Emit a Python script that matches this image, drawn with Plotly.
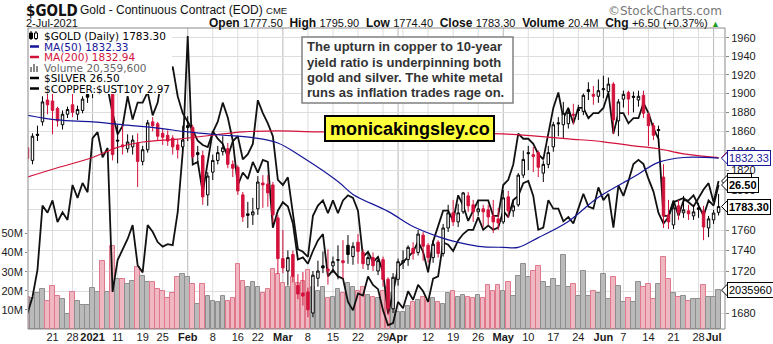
import math
import plotly.graph_objects as go

# ---------------------------------------------------------------------------
# Data: one entry per trading day, index 0 = Mon 21 Dec 2020, last = Fri 2 Jul 2021
# ---------------------------------------------------------------------------
days = list(range(-5, 134))

gold_open = [
    1843, 1830, 1857, 1870, 1893, 1892, 1884, 1867, 1878, 1888, 1878, 1882, 1899,
    1900, 1943, 1953, 1915, 1907, 1851, 1846, 1842, 1844, 1848, 1829, 1841, 1870,
    1868, 1858, 1856, 1853, 1846, 1844,
    1866, 1864, 1838, 1835, 1795, 1818, 1830, 1839, 1842, 1826, 1823, 1795, 1776,
    1775, 1781, 1807, 1806, 1805, 1772,
    1732, 1720, 1736, 1706, 1699, 1700, 1680, 1713, 1725, 1722, 1725, 1731, 1730,
    1745, 1734, 1748, 1738, 1726, 1733, 1720, 1731, 1712, 1684,
    1712, 1728, 1731, 1742, 1738, 1755, 1745, 1733, 1748, 1737, 1762, 1777, 1768,
    1778, 1794, 1785, 1778, 1781, 1780, 1774, 1771,
    1768, 1793, 1779, 1785, 1815, 1838, 1834, 1838, 1817, 1826, 1844, 1869, 1867,
    1868, 1878, 1883, 1881, 1904, 1899, 1897,
    1904, 1902, 1910, 1871, 1894, 1901, 1897, 1893, 1898, 1878, 1866, 1862, 1813,
    1775, 1765, 1784, 1777, 1779, 1774, 1782, 1779, 1762, 1770, 1777.5,
]
gold_high = [
    1849, 1858, 1866, 1897, 1902, 1907, 1886, 1882, 1886, 1902, 1887, 1897, 1903,
    1945, 1959, 1959, 1925, 1914, 1867, 1866, 1857, 1856, 1858, 1845, 1872, 1875,
    1870, 1863, 1861, 1856, 1852, 1866,
    1876, 1867, 1845, 1840, 1818, 1836, 1845, 1855, 1848, 1830, 1825, 1798, 1788,
    1792, 1814, 1815, 1815, 1808, 1775,
    1760, 1740, 1740, 1717, 1719, 1704, 1720, 1730, 1739, 1741, 1734, 1745, 1750,
    1755, 1748, 1756, 1741, 1737, 1738, 1734, 1734, 1714, 1718,
    1732, 1740, 1745, 1748, 1760, 1758, 1747, 1750, 1750, 1766, 1785, 1790, 1786,
    1798, 1798, 1790, 1790, 1785, 1785, 1790, 1782,
    1800, 1799, 1790, 1817, 1840, 1845, 1844, 1840, 1830, 1845, 1870, 1875, 1891,
    1885, 1889, 1888, 1900, 1912, 1908, 1915,
    1919, 1917, 1912, 1894, 1903, 1903, 1902, 1903, 1903, 1880, 1869, 1866, 1826,
    1790, 1788, 1790, 1794, 1785, 1785, 1787, 1784, 1774, 1780, 1795.9,
]
gold_low = [
    1825, 1826, 1850, 1866, 1878, 1857, 1865, 1862, 1874, 1875, 1872, 1879, 1890,
    1895, 1938, 1902, 1904, 1830, 1827, 1836, 1838, 1836, 1803, 1825, 1838, 1860,
    1850, 1846, 1845, 1836, 1832, 1840,
    1850, 1832, 1828, 1785, 1784, 1810, 1826, 1835, 1822, 1813, 1795, 1768, 1762,
    1765, 1775, 1782, 1783, 1767, 1717,
    1718, 1706, 1709, 1693, 1687, 1676, 1676, 1705, 1718, 1707, 1718, 1712, 1713,
    1727, 1726, 1727, 1722, 1721, 1720, 1716, 1705, 1678, 1680,
    1706, 1722, 1725, 1731, 1735, 1730, 1728, 1728, 1733, 1734, 1758, 1764, 1763,
    1776, 1778, 1768, 1774, 1763, 1765, 1757, 1760,
    1766, 1772, 1773, 1783, 1812, 1820, 1818, 1813, 1808, 1822, 1839, 1855, 1853,
    1863, 1867, 1872, 1877, 1893, 1888, 1890,
    1895, 1897, 1857, 1855, 1885, 1877, 1880, 1886, 1874, 1845, 1851, 1845, 1762,
    1761, 1761, 1770, 1772, 1770, 1770, 1772, 1750, 1753, 1766, 1774.4,
]
gold_close = [
    1832, 1855, 1856, 1891, 1888, 1882, 1871, 1878, 1883, 1880, 1883, 1894, 1896,
    1943, 1953, 1908, 1913, 1836, 1850, 1844, 1849, 1851, 1829, 1841, 1869, 1866,
    1855, 1854, 1850, 1844, 1841, 1851,
    1864, 1834, 1836, 1793, 1814, 1830, 1838, 1843, 1826, 1822, 1799, 1773, 1774.5,
    1778, 1808, 1805, 1797, 1775, 1732,
    1723, 1733, 1715, 1698, 1696, 1683, 1716, 1720, 1723, 1720, 1729, 1730.5, 1728,
    1736, 1744, 1739, 1727, 1733, 1725, 1730, 1712, 1684, 1714,
    1729, 1730, 1743, 1737, 1756, 1744, 1733, 1746, 1737, 1762, 1777, 1768, 1777,
    1797, 1784, 1778, 1781, 1778, 1773, 1768, 1767,
    1792, 1779, 1784, 1815, 1831, 1837, 1836, 1823, 1826, 1838, 1867, 1868, 1879,
    1880, 1877, 1882, 1898, 1902, 1897, 1903,
    1905, 1910, 1872, 1891, 1899, 1894, 1896, 1897, 1879, 1866, 1856, 1861, 1774,
    1768, 1782, 1777, 1780, 1776, 1778, 1780.5, 1763, 1771, 1776.8, 1783.3,
]
PRIOR_CLOSE = 1840.0  # close of the session before the first bar

volume_millions = [
    17, 16.3, 19, 21, 14.7, 22.6, 17.4, 15.8, 7.9, 19.5, 14.7, 12.6, 12.6,
    21.6, 19.5, 35.8, 19.5, 43.7, 26.3, 26.1, 23.4, 25.3, 32.3, 27.9, 24.4, 24.4,
    20.7, 20.0, 16.4, 19.0, 27.0, 28.8,
    27.0, 23.4, 12.9, 23.4, 17.4, 14.6, 13.9, 17.4, 14.6, 16.4, 34.0, 25.3, 21.8,
    24.4, 21.8, 19.0, 20.7, 31.4, 29,
    24, 22, 27, 24, 25, 31, 22, 20, 22, 16, 17, 21, 19, 24, 22, 20, 22, 18, 17, 16,
    20, 22, 19,
    9, 9, 12, 14, 15, 17, 15, 16, 14, 13, 19, 20, 17, 18, 17, 16, 18, 16, 23, 20, 23,
    20, 24.4, 17.4, 27.9, 34, 27, 30.5, 33.2, 24.4, 21.8, 26.1, 22.6, 38.8, 21.8,
    23.4, 17.4, 30.5, 17.4, 20, 19,
    28.8, 15.6, 27, 22.6, 13.9, 16.4, 13.9, 24.4, 21.8, 23.4, 15.6, 23.4, 37.5,
    26.1, 19, 17, 17.4, 14.6, 15.6, 15.6, 23, 17, 17, 20.3596,
]

silver_close = [
    24.0, 24.32, 24.85, 26.1, 25.96, 26.2, 25.78, 25.97, 25.82, 26.5, 26.25, 26.54, 26.36,
    27.41, 27.53, 27.04, 27.22, 24.42, 25.04, 25.24, 25.45, 25.72, 24.94, 24.8, 25.72,
    25.59, 25.39, 25.3, 25.35, 25.33, 25.97, 27.14,
    29.4, 26.9, 26.95, 26.35, 26.95, 27.55, 27.4, 27.3, 27.05, 27.35, 27.45, 27.0,
    27.1, 27.3, 28.15, 27.9, 27.7, 27.45, 26.6,
    26.5, 26.65, 25.9, 25.25, 25.2, 25.1, 25.9, 26.1, 26.2, 25.95, 26.2, 25.95, 26.2,
    26.3, 26.25, 26.0, 25.1, 25.2, 25.0, 25.1, 24.8, 24.0, 24.4,
    24.9, 25.0, 25.1, 25.2, 25.4, 25.2, 24.8, 25.4, 25.7, 26.0, 26.0, 25.8, 26.3,
    26.1, 25.8, 26.0, 26.2, 26.2, 26.2, 25.9, 25.9,
    26.5, 26.6, 26.9, 27.5, 27.4, 27.4, 27.3, 27.1, 27.0, 27.5, 28.0, 28.3, 27.8,
    28.0, 27.7, 28.0, 28.0, 27.8, 27.9, 27.9,
    28.0, 28.3, 27.5, 27.9, 27.9, 27.7, 27.8, 27.8, 28.1, 27.9, 27.6, 27.4, 25.9,
    25.9, 26.2, 25.9, 26.2, 26.2, 26.3, 26.1, 25.9, 26.2, 26.1, 26.5,
]

copper_ust10y = [
    3.91, 3.92, 3.90, 3.93, 3.85, 3.87, 3.85, 3.82, 3.83, 3.80, 3.79, 3.78, 3.82,
    3.95, 3.82, 3.58, 3.41, 3.29, 3.19, 3.23, 3.37, 3.26, 3.34, 3.34, 3.39, 3.28,
    3.34, 3.48, 3.46, 3.51, 3.37, 3.29,
    3.25, 3.21, 3.16, 3.14, 3.13, 3.20, 3.25, 3.34, 3.27, 3.16, 2.95, 3.01, 2.98,
    3.06, 3.01, 3.07, 3.06, 2.75, 2.83,
    2.87, 2.85, 2.77, 2.60, 2.61, 2.58, 2.64, 2.69, 2.72, 2.52, 2.55, 2.52, 2.51,
    2.40, 2.36, 2.44, 2.43, 2.52, 2.48, 2.46, 2.36, 2.29, 2.30,
    2.40, 2.37, 2.45, 2.41, 2.48, 2.45, 2.40, 2.51, 2.52, 2.68, 2.67, 2.64, 2.69,
    2.72, 2.74, 2.74, 2.80, 2.74, 2.76, 2.74, 2.75,
    2.83, 2.80, 2.88, 2.90, 2.96, 2.97, 2.90, 2.74, 2.75, 2.88, 2.84, 2.84, 2.78,
    2.80, 2.77, 2.84, 2.91, 2.85, 2.84, 2.94,
    2.88, 2.91, 2.75, 2.95, 2.90, 2.97, 3.05, 3.07, 3.05, 2.98, 2.92, 2.82, 2.77,
    2.80, 2.87, 2.88, 2.89, 2.87, 2.85, 2.89, 2.93, 2.96, 2.87, 2.97,
]

ma50_days = [-5, 1, 8, 15, 21, 27, 33, 40, 45, 50, 57, 60, 67, 72, 77, 80, 85,
             90, 93, 97, 103, 109, 116, 121, 126, 133]
ma50_values = [1877, 1872, 1870, 1866.5, 1863.5, 1859.5, 1856.5, 1853.5, 1848,
               1833, 1808.5, 1795.5, 1778.5, 1763.5, 1753.5, 1749, 1744, 1743,
               1743, 1752.5, 1768.5, 1792.5, 1813, 1828, 1833, 1832.33]

ma200_days = [-5, 1, 8, 13, 18, 25, 31, 38, 45, 53, 70, 90, 96, 103, 110, 116,
              121, 126, 133]
ma200_values = [1813, 1822.5, 1833, 1843.5, 1849, 1852, 1855.5, 1859.5, 1860.5,
                1859.5, 1859, 1857.5, 1855.4, 1852.3, 1849.2, 1845, 1842, 1836.8,
                1832.94]

tick_days = [0, 4, 8, 13, 18, 22, 27, 32, 37, 41, 46, 51, 56, 61, 66, 69, 75,
             80, 85, 90, 95, 100, 105, 110, 114, 119, 124, 129, 132]
tick_labels = ["21", "28", "2021", "11", "19", "25", "Feb", "8", "16", "22",
               "Mar", "8", "15", "22", "29", "Apr", "12", "19", "26", "May",
               "10", "17", "24", "Jun", "7", "14", "21", "28", "Jul"]
month_start_days = [8, 27, 46, 69, 90, 110, 132]
week_start_days = [-5, 0, 4, 13, 18, 22, 32, 37, 41, 51, 56, 61, 66, 70, 75, 80,
                   85, 95, 100, 105, 114, 119, 124, 129]

# ---------------------------------------------------------------------------
# Styling constants
# ---------------------------------------------------------------------------
W, H = 773, 344
PL, PR, PT, PB = 28, 725, 28, 329          # plot area in pixels
X_RANGE = [-4.892, 134.28]
PRICE_RANGE = [math.log10(1665.0), math.log10(1971.0)]
VOL_RANGE = [0, 157.6]
SILVER_RANGE = [23.698, 29.555]
COPPER_RANGE = [2.272, 3.692]
RED = "#d3123c"
NAVY = "#16169a"
SANS = "Liberation Sans, Arial, sans-serif"
VERD = "DejaVu Sans, Verdana, sans-serif"


def fx(px):
    """pixel column -> paper x"""
    return (px - PL) / (PR - PL)


def fy(py):
    """pixel row -> paper y"""
    return (PB - py) / (PB - PT)


def paper_y(value, rng, log=False):
    v = math.log10(value) if log else value
    return (v - rng[0]) / (rng[1] - rng[0])


prev_close = [PRIOR_CLOSE] + gold_close[:-1]
is_up = [c >= p for c, p in zip(gold_close, prev_close)]


def pick(seq, flag):
    return [v for v, u in zip(seq, is_up) if u == flag]


fig = go.Figure()

# volume (base axis, drawn first so it sits underneath)
fig.add_trace(go.Bar(
    x=days, y=volume_millions, width=0.9,
    marker=dict(color=["#bababa" if u else "#efb7c1" for u in is_up],
                line=dict(color=["#8e8e8e" if u else "#e0788b" for u in is_up],
                          width=1)),
    yaxis="y", hoverinfo="skip", showlegend=False))

# silver and copper/10y ratio on their own hidden scales
fig.add_trace(go.Scatter(x=days, y=silver_close, mode="lines", yaxis="y2",
                         line=dict(color="#111111", width=1.8),
                         hoverinfo="skip", showlegend=False))
fig.add_trace(go.Scatter(x=days, y=copper_ust10y, mode="lines", yaxis="y3",
                         line=dict(color="#111111", width=1.8),
                         hoverinfo="skip", showlegend=False))

# moving averages
fig.add_trace(go.Scatter(x=ma200_days, y=ma200_values, mode="lines", yaxis="y4",
                         line=dict(color=RED, width=1.2, shape="spline"),
                         hoverinfo="skip", showlegend=False))
fig.add_trace(go.Scatter(x=ma50_days, y=ma50_values, mode="lines", yaxis="y4",
                         line=dict(color=NAVY, width=1.2, shape="spline"),
                         hoverinfo="skip", showlegend=False))

# candles: black for up sessions, red for down sessions; hollow when close > open
for flag, col in ((True, "#000000"), (False, RED)):
    fig.add_trace(go.Candlestick(
        x=pick(days, flag), open=pick(gold_open, flag), high=pick(gold_high, flag),
        low=pick(gold_low, flag), close=pick(gold_close, flag), yaxis="y4",
        whiskerwidth=0,
        increasing=dict(line=dict(color=col, width=1), fillcolor="white"),
        decreasing=dict(line=dict(color=col, width=1), fillcolor=col),
        hoverinfo="skip", showlegend=False))

shapes = []
# vertical grid
for d in week_start_days:
    shapes.append(dict(type="line", xref="x", yref="paper", x0=d, x1=d, y0=0, y1=1,
                       line=dict(color="#dedede", width=1), layer="below"))
for d in month_start_days:
    shapes.append(dict(type="line", xref="x", yref="paper", x0=d, x1=d, y0=0, y1=1,
                       line=dict(color="#b9b9b9", width=1), layer="below"))

# legend background
shapes.append(dict(type="rect", xref="paper", yref="paper", x0=fx(PL), x1=fx(172),
                   y0=fy(94), y1=fy(PT), fillcolor="white", line=dict(width=0),
                   layer="above"))
# legend icons
icon_rows = [35.5, 46.5, 57, 67.5, 78, 88.5]
shapes += [
    dict(type="line", xref="paper", yref="paper", x0=fx(31), x1=fx(31),
         y0=fy(40), y1=fy(31), line=dict(color="black", width=1), layer="above"),
    dict(type="rect", xref="paper", yref="paper", x0=fx(29.5), x1=fx(32.5),
         y0=fy(38.5), y1=fy(33), fillcolor="black", line=dict(color="black", width=1),
         layer="above"),
    dict(type="line", xref="paper", yref="paper", x0=fx(36), x1=fx(36),
         y0=fy(40), y1=fy(31), line=dict(color="black", width=1), layer="above"),
    dict(type="rect", xref="paper", yref="paper", x0=fx(34.5), x1=fx(37.5),
         y0=fy(38.5), y1=fy(33), fillcolor="white", line=dict(color="black", width=1),
         layer="above"),
]
for row, col in ((1, NAVY), (2, RED), (4, "black"), (5, "black")):
    yy = icon_rows[row]
    shapes.append(dict(type="line", xref="paper", yref="paper", x0=fx(30), x1=fx(39),
                       y0=fy(yy), y1=fy(yy), line=dict(color=col, width=2.5),
                       layer="above"))
for bx, bh in ((30, 5), (33, 8), (36, 6)):
    shapes.append(dict(type="rect", xref="paper", yref="paper", x0=fx(bx),
                       x1=fx(bx + 2), y0=fy(72), y1=fy(72 - bh), fillcolor="#888",
                       line=dict(width=0), layer="above"))

# comment box and web-address box
shapes.append(dict(type="rect", xref="paper", yref="paper", x0=fx(302), x1=fx(513),
                   y0=fy(103), y1=fy(37), fillcolor="white",
                   line=dict(color="#808080", width=1.5), layer="above"))
shapes.append(dict(type="rect", xref="paper", yref="paper", x0=fx(325), x1=fx(494),
                   y0=fy(141), y1=fy(116), fillcolor="#ffff3c",
                   line=dict(color="black", width=2), layer="above"))
# plot frame
shapes.append(dict(type="rect", xref="paper", yref="paper", x0=0, x1=1, y0=0, y1=1,
                   line=dict(color="#8a8a8a", width=1), layer="above"))

ann = []


def text(px, py, s, size, color="#111", family=SANS, xanchor="left", **kw):
    ann.append(dict(xref="paper", yref="paper", x=fx(px), y=fy(py), text=s,
                    showarrow=False, xanchor=xanchor, yanchor="middle",
                    font=dict(size=size, color=color, family=family), **kw))


# header
text(24, 11, "<b>$GOLD</b>", 15, "#111",
     family="DejaVu Sans Condensed, Liberation Sans Narrow, sans-serif")
text(78, 10, "Gold - Continuous Contract (EOD) <span style='font-size:9.5px'>CME</span>",
     12, "#111")
text(24, 23, "2-Jul-2021", 11, "#111")
text(722, 23,
     "<b>Open</b> <span style='font-size:11px'>1777.50</span>  "
     "<b>High</b> <span style='font-size:11px'>1795.90</span>  "
     "<b>Low</b> <span style='font-size:11px'>1774.40</span>  "
     "<b>Close</b> <span style='font-size:11px'>1783.30</span>  "
     "<b>Volume</b> <span style='font-size:11px'>20.4M</span>  "
     "<b>Chg</b> <span style='font-size:11px'>+6.50 (+0.37%)</span> "
     "<span style='color:#1f9a1f;font-size:9px'>▲</span>",
     12, "#111", xanchor="right")
text(724, 11, "©StockCharts.com", 12, "#777", family=VERD, xanchor="right")

# legend entries
legend_rows = [
    ("$GOLD (Daily) 1783.30", "#000"),
    ("MA(50) 1832.33", NAVY),
    ("MA(200) 1832.94", RED),
    ("Volume 20,359,600", "#666"),
    ("$SILVER 26.50", "#000"),
    ("$COPPER:$UST10Y 2.97", "#000"),
]
for (s, c), yy in zip(legend_rows, icon_rows):
    text(42, yy, s, 10.5, c, family=VERD)

# comment text
comment_lines = ["The upturn in copper to 10-year",
                 "yield ratio is underpinning both",
                 "gold and silver. The white metal",
                 "runs as inflation trades rage on."]
for s, yy in zip(comment_lines, [47, 62.3, 77.6, 92.8]):
    text(305, yy, "<b>" + s + "</b>", 13, "#333")
text(409.5, 128.5, "<b>monicakingsley.co</b>", 18, "#000", xanchor="center")


# value tags on the right edge, each with a small pointer towards the axis
def tag(yref, yval, pyv, s, border, color="#000", bold=False):
    ann.append(dict(xref="paper", yref=yref, x=fx(727), y=yval,
                    text=("<b>%s</b>" % s) if bold else s, showarrow=False,
                    xanchor="left", yanchor="middle", bgcolor="white",
                    bordercolor=border, borderwidth=1, borderpad=1,
                    font=dict(size=11, color=color, family=SANS)))
    dy = 6.0 / (PB - PT)
    shapes.append(dict(type="path", xref="paper", yref="paper",
                       path="M %f,%f L %f,%f L %f,%f Z" % (
                           fx(727.5), pyv + dy, fx(721.5), pyv, fx(727.5), pyv - dy),
                       fillcolor="white", line=dict(color=border, width=1),
                       layer="above"))


tag("y4", math.log10(ma200_values[-1]),
    paper_y(ma200_values[-1], PRICE_RANGE, log=True),
    "%.2f" % ma200_values[-1], RED, RED)
tag("y4", math.log10(ma50_values[-1]),
    paper_y(ma50_values[-1], PRICE_RANGE, log=True),
    "%.2f" % ma50_values[-1], NAVY, NAVY)
tag("y3", copper_ust10y[-1], paper_y(copper_ust10y[-1], COPPER_RANGE),
    "%.2f" % copper_ust10y[-1], "#000", bold=True)
tag("y2", silver_close[-1], paper_y(silver_close[-1], SILVER_RANGE),
    "%.2f" % silver_close[-1], "#000", bold=True)
tag("y4", math.log10(gold_close[-1]), paper_y(gold_close[-1], PRICE_RANGE, log=True),
    "%.2f" % gold_close[-1], "#000", bold=True)
tag("y", volume_millions[-1], paper_y(volume_millions[-1], VOL_RANGE),
    "%d" % round(volume_millions[-1] * 1e5), "#000")

tick_text = ["<b>%s</b>" % t if d in month_start_days else t
             for d, t in zip(tick_days, tick_labels)]

axis_font = dict(size=11, color="#1a1a1a", family=SANS)
fig.update_layout(
    width=W, height=H, template="none",
    margin=dict(l=PL, r=W - PR, t=PT, b=H - PB, pad=0),
    paper_bgcolor="white", plot_bgcolor="white",
    showlegend=False, bargap=0,
    xaxis=dict(range=X_RANGE, tickmode="array", tickvals=tick_days,
               ticktext=tick_text, tickangle=0, showgrid=False, zeroline=False,
               showline=False, ticks="", ticklen=0, tickfont=axis_font,
               automargin=False, rangeslider=dict(visible=False)),
    yaxis=dict(range=VOL_RANGE, tickmode="array", tickvals=[10, 20, 30, 40, 50],
               ticktext=["10M", "20M", "30M", "40M", "50M"], side="left",
               showgrid=False, zeroline=False, showline=False, ticks="outside",
               ticklen=2, tickcolor="#888", tickfont=axis_font, automargin=False),
    yaxis2=dict(range=SILVER_RANGE, overlaying="y", visible=False),
    yaxis3=dict(range=COPPER_RANGE, overlaying="y", visible=False),
    yaxis4=dict(type="log", range=PRICE_RANGE,
                overlaying="y", side="right", tickmode="array",
                tickvals=list(range(1680, 1961, 20)), showgrid=True,
                gridcolor="#dedede", gridwidth=1, zeroline=False, showline=False,
                ticks="outside", ticklen=3, tickcolor="#888", tickfont=axis_font,
                automargin=False),
    shapes=shapes,
    annotations=ann,
)

fig.write_html("out.html", config={"displayModeBar": False})
